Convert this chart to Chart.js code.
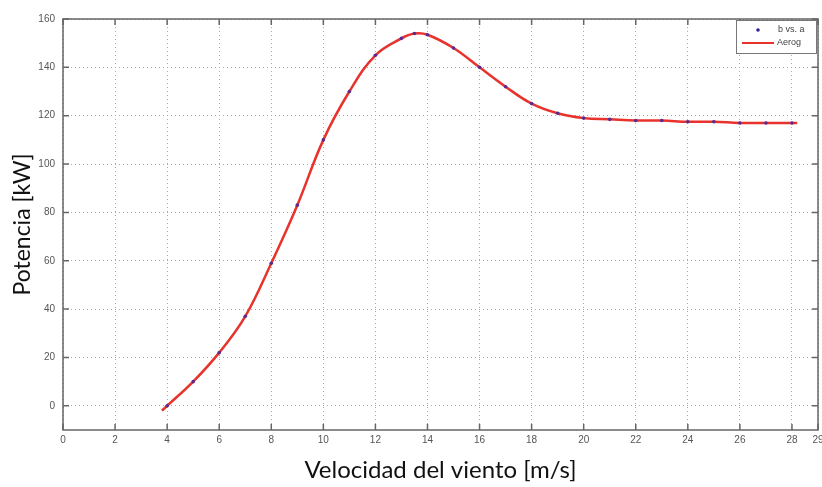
<!DOCTYPE html>
<html>
<head>
<meta charset="utf-8">
<script src="https://cdn.jsdelivr.net/npm/chart.js@4.4.0/dist/chart.umd.min.js"></script>
<style>
    html, body { margin: 0; padding: 0; background: #fff; }
    #wrap { width: 822px; height: 487px; }
</style>
</head>
<body>
<div id="wrap"><canvas id="chart_1" width="822" height="487"></canvas></div>
<script>
// measured points (b vs. a)
var velocidad = [4, 5, 6, 7, 8, 9, 10, 11, 12, 13, 13.5, 14, 15, 16, 17, 18, 19, 20, 21, 22, 23, 24, 25, 26, 27, 28];
var potencia = [0, 10, 22, 37, 59, 83, 110, 130, 145, 152, 154, 153.5, 148, 140, 132, 125, 121, 119, 118.5, 118, 118, 117.5, 117.5, 117, 117, 117];

// fitted curve (Aerog)
var curvaV = [3.8, 4, 5, 6, 7, 8, 9, 10, 11, 12, 13, 13.5, 14, 15, 16, 17, 18, 19, 20, 21, 22, 23, 24, 25, 26, 27, 28, 28.2];
var curvaP = [-2, 0, 10, 22, 37, 59, 83, 110, 130, 145, 152, 154, 153.5, 148, 140, 132, 125, 121, 119, 118.5, 118, 118, 117.5, 117.5, 117, 117, 117, 117];

var xTicks = [0, 2, 4, 6, 8, 10, 12, 14, 16, 18, 20, 22, 24, 26, 28, 29];
var yTicks = [0, 20, 40, 60, 80, 100, 120, 140, 160];

var legendNames = ['b vs. a', 'Aerog'];

function toPoints(xs, ys) {
    let tem = [];
    for (var i = 0; i < xs.length; i++) {
        tem.push({x: xs[i], y: ys[i]});
    }
    return tem;
}

// box around the plot, inward ticks and the little legend
var framePlugin = {
    id: 'frame',
    afterDraw: function (chart) {
        var ctx = chart.ctx;
        var a = chart.chartArea;
        var sx = chart.scales.x;
        var sy = chart.scales.y;
        ctx.save();
        ctx.strokeStyle = '#666';
        ctx.lineWidth = 1.5;
        ctx.strokeRect(a.left, a.top, a.right - a.left, a.bottom - a.top);
        ctx.beginPath();
        xTicks.forEach(function (v) {
            var px = sx.getPixelForValue(v);
            ctx.moveTo(px, a.bottom); ctx.lineTo(px, a.bottom - 6);
            ctx.moveTo(px, a.top); ctx.lineTo(px, a.top + 6);
        });
        yTicks.forEach(function (v) {
            var py = sy.getPixelForValue(v);
            ctx.moveTo(a.left, py); ctx.lineTo(a.left + 6, py);
            ctx.moveTo(a.right, py); ctx.lineTo(a.right - 6, py);
        });
        ctx.stroke();

        // legend
        var lx = 736, ly = 20, lw = 80, lh = 33;
        ctx.fillStyle = '#fff';
        ctx.fillRect(lx, ly, lw, lh);
        ctx.strokeStyle = '#777';
        ctx.lineWidth = 1;
        ctx.strokeRect(lx + 0.5, ly + 0.5, lw, lh);
        ctx.fillStyle = '#3a1f9a';
        ctx.beginPath();
        ctx.arc(758, 30, 1.8, 0, Math.PI * 2);
        ctx.fill();
        ctx.strokeStyle = '#e8322c';
        ctx.lineWidth = 2;
        ctx.beginPath();
        ctx.moveTo(742, 43); ctx.lineTo(774, 43);
        ctx.stroke();
        ctx.fillStyle = '#444';
        ctx.font = '9px "Liberation Sans"';
        ctx.textBaseline = 'middle';
        ctx.fillText(legendNames[0], 778, 30);
        ctx.fillText(legendNames[1], 777, 43);
        ctx.restore();
    }
};

function chart_show() {
    var ctx1 = document.getElementById('chart_1').getContext('2d');
    var data1 = {
        datasets: [
            {
                label: legendNames[1],
                data: toPoints(curvaV, curvaP),
                showLine: true,
                borderColor: '#e8322c',
                borderWidth: 2.5,
                pointRadius: 0,
                tension: 0.4,
                order: 2
            },
            {
                label: legendNames[0],
                data: toPoints(velocidad, potencia),
                showLine: false,
                pointRadius: 1.8,
                pointBackgroundColor: '#5a2a8e',
                pointBorderWidth: 0,
                order: 1
            }
        ]
    };

    var grid = {
        color: '#aaa',
        lineWidth: 1,
        drawTicks: false
    };

    var options = {
        animation: false,
        responsive: false,
        layout: {padding: {left: 0, right: 2, top: 19, bottom: 0}},
        plugins: {
            legend: {display: false},
            tooltip: {enabled: false}
        },
        scales: {
            x: {
                type: 'linear',
                min: 0,
                max: 29,
                afterBuildTicks: function (scale) {
                    scale.ticks = xTicks.map(function (v) { return {value: v}; });
                },
                afterFit: function (scale) {
                    scale.height = 57;
                    scale.paddingLeft = 0;
                    scale.paddingRight = 0;
                },
                grid: grid,
                border: {display: false, dash: [1, 3]},
                ticks: {
                    padding: 4,
                    color: '#555',
                    maxRotation: 0,
                    autoSkip: false,
                    font: {family: 'Liberation Sans', size: 10}
                },
                title: {
                    display: true,
                    text: 'Velocidad del viento [m/s]',
                    color: '#111',
                    font: {family: 'Lato', size: 24},
                    padding: {top: 0, bottom: 2}
                }
            },
            y: {
                type: 'linear',
                min: -10,
                max: 160,
                afterBuildTicks: function (scale) {
                    scale.ticks = yTicks.map(function (v) { return {value: v}; });
                },
                afterFit: function (scale) {
                    scale.width = 63;
                    scale.paddingTop = 0;
                    scale.paddingBottom = 0;
                },
                grid: grid,
                border: {display: false, dash: [1, 3]},
                ticks: {
                    padding: 8,
                    color: '#555',
                    font: {family: 'Liberation Sans', size: 10}
                },
                title: {
                    display: true,
                    text: 'Potencia [kW]',
                    color: '#111',
                    font: {family: 'Lato', size: 23},
                    padding: {top: 9, bottom: 0}
                }
            }
        }
    };

    var lineChart = new Chart(ctx1, {
        type: 'scatter',
        data: data1,
        options: options,
        plugins: [framePlugin]
    });
}

chart_show();
</script>
</body>
</html>
